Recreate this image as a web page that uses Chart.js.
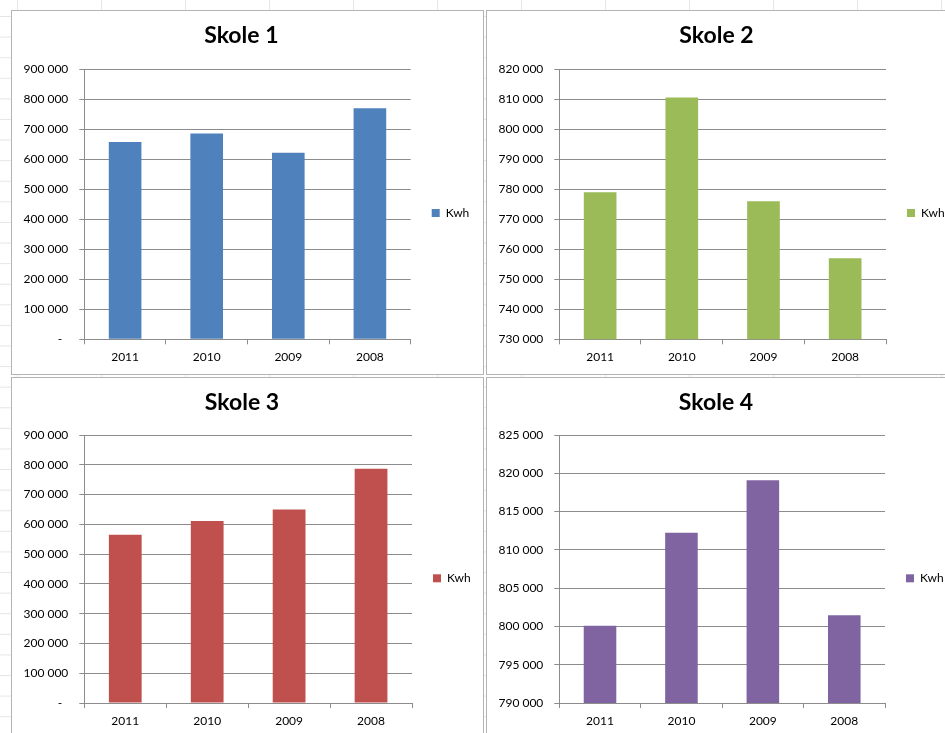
<!DOCTYPE html>
<html lang="no">
<head>
<meta charset="UTF-8">
<title>Skole Kwh</title>
<script src="https://cdn.jsdelivr.net/npm/chart.js"></script>
<style>
  body {
    margin: 0;
    width: 945px;
    height: 733px;
    overflow: hidden;
    position: relative;
    background-color: #fff;
    background-image: linear-gradient(to right, #e6e6e6 1px, transparent 1px),
                      linear-gradient(to bottom, #e6e6e6 1px, transparent 1px);
    background-size: 84px 20.6px;
    background-position: 17px 16px;
  }
  .panel {
    position: absolute;
    border: 1px solid #b4b4b4;
    background: #fff;
  }
  .panel canvas { display: block; }
</style>
</head>
<body>

<div class="panel" style="left:11px; top:10px;"><canvas id="skole1" width="471" height="363"></canvas></div>
<div class="panel" style="left:486px; top:10px;"><canvas id="skole2" width="471" height="363"></canvas></div>
<div class="panel" style="left:11px; top:377px;"><canvas id="skole3" width="471" height="360"></canvas></div>
<div class="panel" style="left:486px; top:377px;"><canvas id="skole4" width="471" height="360"></canvas></div>

<script>
  // data
  const years = ['2011', '2010', '2009', '2008'];
  const seriesName = 'Kwh';

  const skole1 = [657000, 685000, 621000, 769000];
  const skole2 = [779000, 810500, 776000, 757000];
  const skole3 = [565000, 611000, 650000, 787000];
  const skole4 = [800100, 812250, 819100, 801450];

  // y axis: min, max, step
  const axis1 = [0, 900000, 100000];
  const axis2 = [730000, 820000, 10000];
  const axis3 = [0, 900000, 100000];
  const axis4 = [790000, 825000, 5000];

  Chart.defaults.font.family = "Lato, 'Liberation Sans', sans-serif";
  Chart.defaults.color = '#000';

  const lineGrey = '#8c8c8c';

  function fmt(value) {
    if (value === 0) return '-  ';
    return String(value).replace(/\B(?=(\d{3})+(?!\d))/g, ' ');
  }

  // area = where the plot should sit inside the canvas
  function drawPanel(id, title, values, color, axis, area) {
    const canvas = document.getElementById(id);
    const H = canvas.height;
    const W = canvas.width;
    const legendW = 60;
    const titleLine = 23 * 1.2;
    const midArea = (area.top + area.bottom) / 2;

    new Chart(canvas, {
      type: 'bar',
      data: {
        labels: years,
        datasets: [{
          label: seriesName,
          data: values,
          backgroundColor: color,
          borderWidth: 0,
          barPercentage: 1.0,
          categoryPercentage: 0.4
        }]
      },
      options: {
        responsive: false,
        animation: false,
        layout: {
          padding: { top: 0, left: 0, bottom: 0, right: W - legendW - area.right }
        },
        plugins: {
          title: {
            display: true,
            text: title,
            color: '#000',
            font: { size: 23, weight: 'bold' },
            padding: { top: area.titleY - titleLine / 2, bottom: area.top - (area.titleY + titleLine / 2) }
          },
          legend: {
            position: 'right',
            fullSize: false,
            maxWidth: legendW,
            title: {
              display: true,
              text: '',
              padding: { top: Math.max(0, 2 * (area.legendY - midArea) - 14.4), bottom: 0 }
            },
            labels: {
              boxWidth: 8,
              boxHeight: 8,
              padding: 21,
              color: '#000',
              font: { size: 12 }
            }
          },
          tooltip: { enabled: false }
        },
        scales: {
          x: {
            grid: {
              display: true,
              drawOnChartArea: false,
              offset: true,
              tickLength: 5,
              color: lineGrey
            },
            border: { color: lineGrey },
            ticks: { padding: 6, font: { size: 12 }, color: '#000' },
            afterFit: function (scale) { scale.height = H - area.bottom; }
          },
          y: {
            min: axis[0],
            max: axis[1],
            grid: { color: lineGrey, tickLength: 5 },
            border: { color: lineGrey },
            ticks: {
              stepSize: axis[2],
              padding: 11,
              font: { size: 12 },
              color: '#000',
              callback: function (value) { return fmt(value); }
            },
            afterFit: function (scale) { scale.width = area.left; }
          }
        }
      }
    });
  }

  drawPanel('skole1', 'Skole 1', skole1, '#4F81BD', axis1,
    { left: 72.3, right: 398.7, top: 58, bottom: 328.3, titleY: 25, legendY: 202 });
  drawPanel('skole2', 'Skole 2', skole2, '#9BBB59', axis2,
    { left: 72.3, right: 399, top: 58, bottom: 328.3, titleY: 25, legendY: 202 });
  drawPanel('skole3', 'Skole 3', skole3, '#C0504D', axis3,
    { left: 72.3, right: 400, top: 57, bottom: 325, titleY: 24.3, legendY: 200.3 });
  drawPanel('skole4', 'Skole 4', skole4, '#8064A2', axis4,
    { left: 72.3, right: 398, top: 57, bottom: 325, titleY: 24.3, legendY: 200.3 });
</script>

</body>
</html>
